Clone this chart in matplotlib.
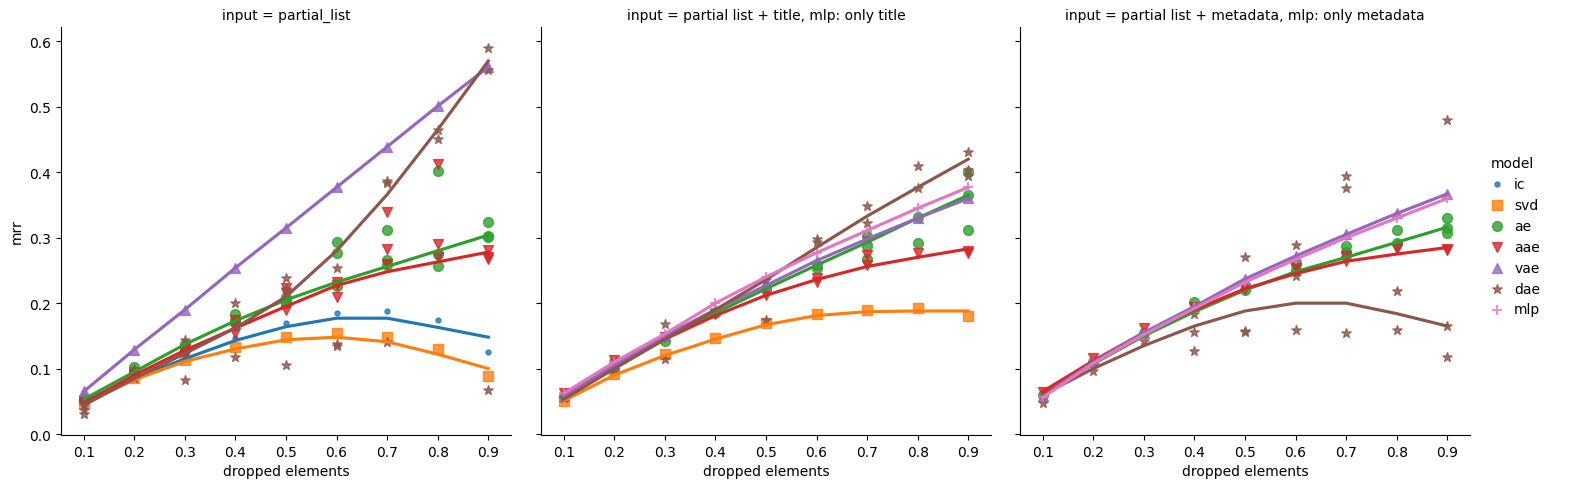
import numpy as np
import matplotlib
matplotlib.use('Agg')
import matplotlib.pyplot as plt

x = [0.1, 0.2, 0.3, 0.4, 0.5, 0.6, 0.7, 0.8, 0.9]
models = ['ic', 'svd', 'ae', 'aae', 'vae', 'dae', 'mlp']
markers = ['.', 's', 'o', 'v', '^', '*', '+']
colors = ['#1f77b4', '#ff7f0e', '#2ca02c', '#d62728', '#9467bd', '#8c564b', '#e377c2']
titles = ['input = partial_list',
          'input = partial list + title, mlp: only title',
          'input = partial list + metadata, mlp: only metadata']

# --- panel 1: partial_list (runs per dropped-elements value) ---
p1_ic = [[0.05], [0.09], [0.115], [0.146], [0.169], [0.185], [0.188], [0.174], [0.125]]
p1_svd = [[0.046], [0.085], [0.113], [0.133], [0.149], [0.154], [0.149], [0.130], [0.089]]
p1_ae = [[0.055, 0.052, 0.05], [0.103, 0.097, 0.095], [0.138, 0.13, 0.128],
         [0.183, 0.175, 0.17], [0.209, 0.2, 0.205], [0.293, 0.277, 0.226],
         [0.312, 0.266, 0.258], [0.402, 0.275, 0.256], [0.324, 0.302, 0.301]]
p1_aae = [[0.05, 0.047, 0.045], [0.09, 0.088, 0.092], [0.125, 0.12, 0.13],
          [0.174, 0.155, 0.165], [0.223, 0.19, 0.215], [0.232, 0.21, 0.228],
          [0.339, 0.283, 0.26], [0.413, 0.291, 0.27], [0.281, 0.268, 0.27]]
p1_vae = [[0.065], [0.129], [0.19], [0.254], [0.315], [0.377], [0.439], [0.501], [0.561]]
p1_dae = [[0.031, 0.036, 0.045], [0.09, 0.1, 0.085], [0.082, 0.143, 0.13],
          [0.2, 0.117, 0.165], [0.239, 0.105, 0.222], [0.254, 0.137, 0.134],
          [0.387, 0.383, 0.14], [0.465, 0.451, 0.275], [0.59, 0.557, 0.068]]

# smoothed trend lines for panel 1
p1_ic_fit = [0.05, 0.085, 0.115, 0.143, 0.164, 0.177, 0.177, 0.163, 0.148]
p1_svd_fit = [0.046, 0.083, 0.111, 0.13, 0.144, 0.148, 0.141, 0.122, 0.100]
p1_ae_fit = [0.053, 0.095, 0.137, 0.173, 0.205, 0.232, 0.256, 0.28, 0.304]
p1_aae_fit = [0.047, 0.09, 0.128, 0.162, 0.195, 0.227, 0.248, 0.263, 0.278]
p1_vae_fit = [0.065, 0.129, 0.19, 0.254, 0.315, 0.377, 0.439, 0.501, 0.561]
p1_dae_fit = [0.044, 0.085, 0.123, 0.162, 0.21, 0.28, 0.366, 0.465, 0.57]

# --- panel 2: partial list + title ---
p2_svd = [[0.051], [0.091], [0.123], [0.147], [0.169], [0.184], [0.19], [0.192], [0.181]]
p2_ae = [[0.058], [0.11, 0.1], [0.142], [0.185], [0.223], [0.254, 0.258],
         [0.302, 0.288, 0.268], [0.292, 0.331], [0.4, 0.366, 0.312]]
p2_aae = [[0.063], [0.113], [0.148], [0.184], [0.213], [0.238, 0.233],
          [0.273, 0.259], [0.276], [0.28, 0.277]]
p2_vae = [[0.058], [0.105], [0.15], [0.19], [0.227], [0.265], [0.298], [0.33], [0.36]]
p2_dae = [[0.055], [0.1], [0.168, 0.114], [0.19], [0.175, 0.235], [0.298, 0.293],
          [0.348, 0.322, 0.30], [0.41, 0.376], [0.431, 0.404, 0.395]]
p2_mlp = [[0.062], [0.11], [0.153], [0.2], [0.24], [0.277], [0.311], [0.345], [0.377]]

p2_svd_fit = [0.051, 0.09, 0.12, 0.145, 0.167, 0.181, 0.187, 0.188, 0.188]
p2_ae_fit = [0.057, 0.1, 0.145, 0.185, 0.222, 0.258, 0.293, 0.33, 0.365]
p2_aae_fit = [0.062, 0.105, 0.145, 0.181, 0.212, 0.236, 0.256, 0.27, 0.283]
p2_vae_fit = [0.058, 0.105, 0.15, 0.19, 0.227, 0.265, 0.298, 0.33, 0.36]
p2_dae_fit = [0.053, 0.1, 0.145, 0.19, 0.236, 0.285, 0.333, 0.377, 0.42]
p2_mlp_fit = [0.062, 0.11, 0.153, 0.2, 0.24, 0.277, 0.311, 0.345, 0.377]

# --- panel 3: partial list + metadata ---
p3_ae = [[0.059], [0.11], [0.155], [0.202], [0.22], [0.26, 0.25],
         [0.287, 0.278], [0.312, 0.292], [0.33, 0.315, 0.307]]
p3_aae = [[0.064], [0.116], [0.162], [0.194], [0.221], [0.253],
          [0.272, 0.265], [0.282, 0.286], [0.282, 0.281]]
p3_vae = [[0.058], [0.11], [0.155], [0.195], [0.237], [0.272], [0.305], [0.337], [0.367]]
p3_dae = [[0.047], [0.096], [0.142], [0.184, 0.156, 0.127], [0.27, 0.158, 0.156],
          [0.289, 0.241, 0.159], [0.394, 0.376, 0.154], [0.218, 0.159, 0.29],
          [0.48, 0.165, 0.118]]
p3_mlp = [[0.056], [0.108], [0.152], [0.192], [0.232], [0.267], [0.3], [0.33], [0.36]]

p3_ae_fit = [0.06, 0.107, 0.15, 0.187, 0.22, 0.248, 0.27, 0.293, 0.316]
p3_aae_fit = [0.065, 0.112, 0.155, 0.19, 0.222, 0.245, 0.264, 0.275, 0.285]
p3_vae_fit = [0.058, 0.11, 0.155, 0.195, 0.237, 0.272, 0.305, 0.337, 0.367]
p3_dae_fit = [0.06, 0.1, 0.135, 0.165, 0.188, 0.2, 0.2, 0.184, 0.165]
p3_mlp_fit = [0.056, 0.108, 0.152, 0.192, 0.232, 0.267, 0.3, 0.33, 0.36]

panels = [
    {'ic': (p1_ic, p1_ic_fit), 'svd': (p1_svd, p1_svd_fit), 'ae': (p1_ae, p1_ae_fit),
     'aae': (p1_aae, p1_aae_fit), 'vae': (p1_vae, p1_vae_fit), 'dae': (p1_dae, p1_dae_fit)},
    {'svd': (p2_svd, p2_svd_fit), 'ae': (p2_ae, p2_ae_fit), 'aae': (p2_aae, p2_aae_fit),
     'vae': (p2_vae, p2_vae_fit), 'dae': (p2_dae, p2_dae_fit), 'mlp': (p2_mlp, p2_mlp_fit)},
    {'ae': (p3_ae, p3_ae_fit), 'aae': (p3_aae, p3_aae_fit), 'vae': (p3_vae, p3_vae_fit),
     'dae': (p3_dae, p3_dae_fit), 'mlp': (p3_mlp, p3_mlp_fit)},
]

fig = plt.figure(figsize=(15.7, 4.89), dpi=100)
lefts = [61, 541, 1020]
handles = {}
for k, panel in enumerate(panels):
    ax = fig.add_axes([lefts[k] / 1570, 53 / 489, 450 / 1570, 408 / 489])
    for m, mk, c in zip(models, markers, colors):
        if m not in panel:
            continue
        pts, fit = panel[m]
        xs = [xv for xv, vals in zip(x, pts) for _ in vals]
        ys = [v for vals in pts for v in vals]
        lw = 1.5 if mk == '+' else 1.0
        h = ax.scatter(xs, ys, marker=mk, color=c, s=50, alpha=0.8, linewidths=lw, zorder=2)
        handles.setdefault(m, h)
        ax.plot(x, fit, color=c, lw=2.25, zorder=3)
    ax.set_xlim(0.055, 0.945)
    ax.set_ylim(-0.0015, 0.622)
    ax.set_xticks(x)
    ax.set_xticklabels([f'{v:.1f}' for v in x])
    ax.set_yticks([0.0, 0.1, 0.2, 0.3, 0.4, 0.5, 0.6])
    ax.spines['top'].set_visible(False)
    ax.spines['right'].set_visible(False)
    ax.set_title(titles[k], fontsize=10)
    ax.set_xlabel('dropped elements')
    if k == 0:
        ax.set_ylabel('mrr')
    else:
        ax.set_yticklabels([])

fig.legend([handles[m] for m in models], models, title='model', loc='center left',
           bbox_to_anchor=(1478 / 1570, 0.515), frameon=False, handletextpad=0.2,
           borderaxespad=0)

fig.savefig('out.png', dpi=100)
